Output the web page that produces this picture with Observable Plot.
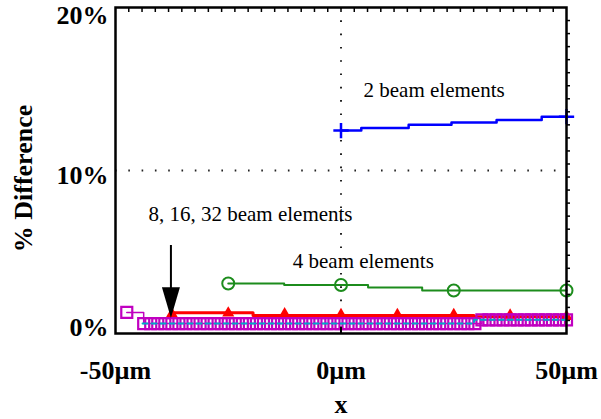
<!DOCTYPE html>
<html>
<head>
<meta charset="utf-8">
<script src="https://cdn.jsdelivr.net/npm/d3@7"></script>
<script src="https://cdn.jsdelivr.net/npm/@observablehq/plot@0.6"></script>
<style>
  html, body { margin: 0; padding: 0; background: #fff; }
  #chart svg { display: block; }
  #chart svg text { font-family: "Liberation Serif", "Times New Roman", serif !important; }
</style>
</head>
<body>
<div id="chart"></div>
<script>
// ---- data ----
// 2 beam elements (blue)
const blueX = [0, 4.5, 15, 24.5, 34.5, 44.5, 50];
const blueY = [12.45, 12.6, 12.8, 12.95, 13.1, 13.3, 13.3];
const blueMarkX = [0, 50];
const blueMarkY = [12.45, 13.3];

// 4 beam elements (green)
const greenX = [-25, -12.6, 6, 18, 50];
const greenY = [3.07, 2.98, 2.82, 2.64, 2.64];
const greenMarkX = [-25, 0, 25, 50];
const greenMarkY = [3.07, 2.98, 2.64, 2.64];

// 8 beam elements (red)
const redX = [-37.5, -19.5, 29.5, 50];
const redY = [1.27, 1.1, 1.02, 1.02];
const redMarkX = [-37.5, -25, -12.5, 0, 12.5, 25, 37.5, 50];
const redMarkY = [1.2, 1.25, 1.2, 1.15, 1.15, 1.15, 1.12, 1.05];

// 16 beam elements (magenta)
const magX = [-47.5, -43.75, -42.19, -40.63, -39.06, -37.5, -35.94, -34.38, -32.81, -31.25, -29.69,
  -28.13, -26.56, -25, -23.44, -21.88, -20.31, -18.75, -17.19, -15.63, -14.06, -12.5, -10.94,
  -9.38, -7.81, -6.25, -4.69, -3.13, -1.56, 0, 1.56, 3.13, 4.69, 6.25, 7.81, 9.38, 10.94, 12.5,
  14.06, 15.63, 17.19, 18.75, 20.31, 21.88, 23.44, 25, 26.56, 28.13, 29.69, 31.25, 32.81, 34.38,
  35.94, 37.5, 39.06, 40.63, 42.19, 43.75, 45.31, 46.88, 48.44, 50];
const magY = [1.29, 0.61, 0.61, 0.61, 0.61, 0.61, 0.61, 0.61, 0.61, 0.61, 0.61,
  0.61, 0.61, 0.61, 0.61, 0.61, 0.61, 0.61, 0.61, 0.61, 0.61, 0.61, 0.61,
  0.61, 0.61, 0.61, 0.61, 0.61, 0.61, 0.61, 0.61, 0.61, 0.61, 0.61, 0.61, 0.61, 0.61, 0.61,
  0.61, 0.61, 0.61, 0.61, 0.61, 0.61, 0.61, 0.61, 0.61, 0.61, 0.61, 0.83, 0.83, 0.83,
  0.83, 0.83, 0.83, 0.83, 0.83, 0.83, 0.83, 0.83, 0.83, 0.83];

// 32 beam elements (cyan)
const cyanX = [-44, 29.5, 50];
const cyanY = [0.62, 0.85, 0.85];

// arrow pointing at the 8/16/32 group
const arrowX = [-37.6];
const arrowTop = [5.4];
const arrowBase = [2.8];
const arrowTip = [0.92];

// annotations
const noteText = ["2 beam elements", "8, 16, 32 beam elements", "4 beam elements"];
const noteX = [5, -42.7, -10.7];
const noteY = [14.48, 6.93, 4.0];

// axes
const xTicks = [-50, 0, 50];
const xTickLabels = ["-50\u00b5m", "0\u00b5m", "50\u00b5m"];
const yTicks = [0, 10, 20];
const yTickLabels = ["0%", "10%", "20%"];
const xTitle = "x";
const yTitle = "% Difference";

// ---- build ----
const zip = (xs, ys) => xs.map((x, i) => ({x, y: ys[i]}));
const blue = zip(blueX, blueY), blueM = zip(blueMarkX, blueMarkY);
const green = zip(greenX, greenY), greenM = zip(greenMarkX, greenMarkY);
const red = zip(redX, redY), redM = zip(redMarkX, redMarkY);
const mag = zip(magX, magY);
const cyan = zip(cyanX, cyanY);
const notes = noteText.map((t, i) => ({t, x: noteX[i], y: noteY[i]}));
const xt = xTicks.map((v, i) => ({v, l: xTickLabels[i]}));
const yt = yTicks.map((v, i) => ({v, l: yTickLabels[i]}));

const topMinor = d3.range(-50 + 100 / 34, 50, 100 / 34);
const rightMinor = d3.range(0.8, 20, 0.8);

const FONT = "Liberation Serif";
const BLUE = "#0000ff", GREEN = "#1c8c1c", RED = "#ff0000", MAG = "#c000c0", CYAN = "#00a8c8";

const arrowMark = (index, scales) => {
  const g = d3.create("svg:g");
  const X = scales.x(arrowX[0]);
  const yT = scales.y(arrowTop[0]), yB = scales.y(arrowBase[0]), yP = scales.y(arrowTip[0]);
  g.append("line").attr("x1", X).attr("x2", X).attr("y1", yT).attr("y2", yB + 2)
    .attr("stroke", "black").attr("stroke-width", 2);
  g.append("path").attr("d", `M${X - 9},${yB}L${X + 9},${yB}L${X},${yP}Z`).attr("fill", "black");
  return g.node();
};

const T = {fontFamily: FONT, fill: "#000"};
const B = {fontSize: 26, fontWeight: "bold", ...T};

const chart = Plot.plot({
  width: 601,
  height: 419,
  marginLeft: 115,
  marginRight: 35,
  marginTop: 7,
  marginBottom: 86,
  style: {fontFamily: FONT, background: "#fff", color: "#000"},
  x: {domain: [-50, 50], axis: null},
  y: {domain: [0, 20], axis: null},
  marks: [
    // dotted grid at 10% and 0µm
    Plot.ruleY([10], {stroke: "#222", strokeWidth: 2, strokeDasharray: "1.6,11.7"}),
    Plot.ruleX([0], {stroke: "#222", strokeWidth: 2, strokeDasharray: "1.6,11.7"}),
    // 8 elements
    Plot.line(red, {x: "x", y: "y", stroke: RED, strokeWidth: 3, curve: "step-after"}),
    Plot.dot(redM, {x: "x", y: "y", symbol: "triangle", fill: RED, r: 4.5}),
    // 16 elements
    Plot.line(mag, {x: "x", y: "y", stroke: MAG, strokeWidth: 1.5, curve: "step-after"}),
    Plot.dot(mag, {x: "x", y: "y", symbol: "square2", stroke: MAG, strokeWidth: 2.2, r: 7, fill: "none"}),
    // 32 elements
    Plot.line(cyan, {x: "x", y: "y", stroke: CYAN, strokeWidth: 2, strokeDasharray: "5,4", curve: "step-after"}),
    // 4 elements
    Plot.line(green, {x: "x", y: "y", stroke: GREEN, strokeWidth: 2, curve: "step-after"}),
    Plot.dot(greenM, {x: "x", y: "y", symbol: "circle", stroke: GREEN, strokeWidth: 2, r: 6, fill: "none"}),
    // 2 elements
    Plot.line(blue, {x: "x", y: "y", stroke: BLUE, strokeWidth: 2.5, curve: "step-after"}),
    Plot.dot(blueM, {x: "x", y: "y", symbol: "plus", stroke: BLUE, strokeWidth: 2.5, r: 5}),
    // arrow
    arrowMark,
    // annotations
    Plot.text(notes, {x: "x", y: "y", text: "t", textAnchor: "start", lineAnchor: "bottom",
      fontSize: 21, ...T}),
    // frame and minor ticks
    Plot.frame({stroke: "#000", strokeWidth: 2.5}),
    Plot.tickX(topMinor, {x: d => d, insetBottom: 321, stroke: "#000", strokeWidth: 1.5}),
    Plot.tickY(rightMinor, {y: d => d, insetLeft: 447, dx: 4, stroke: "#000", strokeWidth: 1.5}),
    Plot.tickX([0], {x: d => d, insetTop: 320, stroke: "#000", strokeWidth: 2}),
    // tick labels
    Plot.text(xt, {x: "v", text: "l", frameAnchor: "bottom", textAnchor: "middle", dy: 37,
      lineAnchor: "middle", ...B}),
    Plot.text(yt.filter(d => d.v === 20), {y: "v", text: "l", frameAnchor: "left", dx: -7, dy: 8,
      textAnchor: "end", lineAnchor: "middle", ...B}),
    Plot.text(yt.filter(d => d.v === 10), {y: "v", text: "l", frameAnchor: "left", dx: -7, dy: 5,
      textAnchor: "end", lineAnchor: "middle", ...B}),
    Plot.text(yt.filter(d => d.v === 0), {y: "v", text: "l", frameAnchor: "left", dx: -7, dy: -6,
      textAnchor: "end", lineAnchor: "middle", ...B}),
    // axis titles
    Plot.text([xTitle], {frameAnchor: "bottom", textAnchor: "middle", dy: 71, lineAnchor: "middle", ...B}),
    Plot.text([yTitle], {frameAnchor: "left", textAnchor: "middle", dx: -92, dy: 8, rotate: -90,
      lineAnchor: "middle", ...B})
  ]
});
document.getElementById("chart").appendChild(chart);
</script>
</body>
</html>
